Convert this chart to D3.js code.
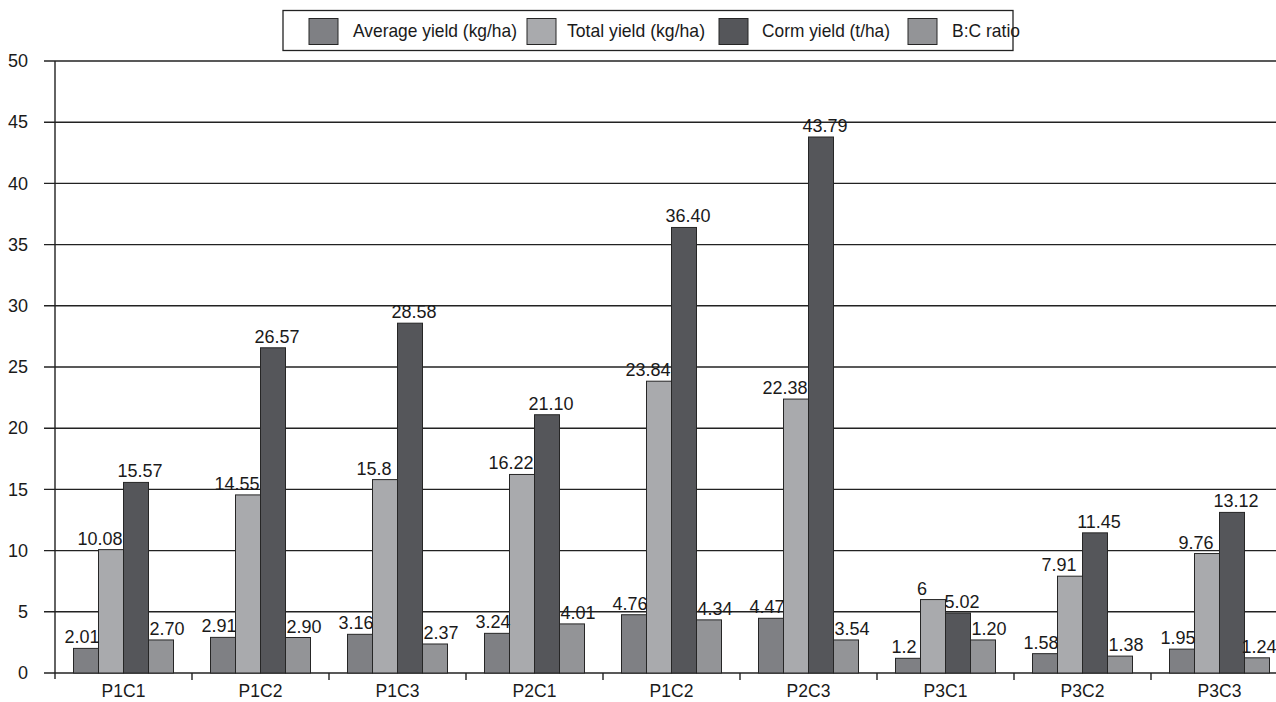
<!DOCTYPE html>
<html>
<head>
<meta charset="utf-8">
<script src="https://cdn.jsdelivr.net/npm/d3@7"></script>
<style>
  body { margin: 0; background: #fff; }
  svg { display: block; font-family: "Liberation Sans", Arial, sans-serif; }
</style>
</head>
<body>
<div id="chart"></div>
<script>
// categories along the x axis (P1C2 appears twice in the original)
const categories = ["P1C1", "P1C2", "P1C3", "P2C1", "P1C2", "P2C3", "P3C1", "P3C2", "P3C3"];
const seriesNames = ["Average yield (kg/ha)", "Total yield (kg/ha)", "Corm yield (t/ha)", "B:C ratio"];

// bar heights
const averageYield = [2.01, 2.91, 3.16, 3.24, 4.76, 4.47, 1.2, 1.58, 1.95];
const totalYield = [10.08, 14.55, 15.8, 16.22, 23.84, 22.38, 6, 7.91, 9.76];
const cormYield = [15.57, 26.57, 28.58, 21.10, 36.40, 43.79, 4.9, 11.45, 13.12];
const bcRatio = [2.70, 2.90, 2.37, 4.01, 4.34, 2.7, 2.7, 1.38, 1.24];

// labels printed above the bars
const averageLabels = ["2.01", "2.91", "3.16", "3.24", "4.76", "4.47", "1.2", "1.58", "1.95"];
const totalLabels = ["10.08", "14.55", "15.8", "16.22", "23.84", "22.38", "6", "7.91", "9.76"];
const cormLabels = ["15.57", "26.57", "28.58", "21.10", "36.40", "43.79", "5.02", "11.45", "13.12"];
const bcLabels = ["2.70", "2.90", "2.37", "4.01", "4.34", "3.54", "1.20", "1.38", "1.24"];

const yTicks = [0, 5, 10, 15, 20, 25, 30, 35, 40, 45, 50];

const colors = ["#7f8084", "#a9aaad", "#55565a", "#939497"];
const labelShift = [-4, -11, 4, 6];

const seriesValues = [averageYield, totalYield, cormYield, bcRatio];
const seriesLabels = [averageLabels, totalLabels, cormLabels, bcLabels];

const width = 1276, height = 702;
const margin = {top: 61, right: -12, bottom: 29, left: 55};

const svg = d3.select("#chart").append("svg")
    .attr("width", width)
    .attr("height", height);

const x0 = d3.scaleBand()
    .domain(d3.range(categories.length))
    .range([margin.left, width - margin.right])
    .padding(0);

const x1 = d3.scaleBand()
    .domain(d3.range(seriesNames.length))
    .range([0, x0.bandwidth()])
    .paddingInner(0)
    .paddingOuter(0.74);

const y = d3.scaleLinear()
    .domain([0, 50])
    .range([height - margin.bottom, margin.top]);

// gridlines
svg.append("g")
    .selectAll("line")
    .data(yTicks)
    .join("line")
    .attr("x1", margin.left - 11)
    .attr("x2", width - margin.right)
    .attr("y1", d => y(d))
    .attr("y2", d => y(d))
    .attr("stroke", "#222")
    .attr("stroke-width", 1.4);

// y axis
const yAxis = svg.append("g")
    .attr("transform", `translate(${margin.left},0)`)
    .call(d3.axisLeft(y).tickValues(yTicks).tickSize(0).tickPadding(27));
yAxis.select(".domain").remove();
yAxis.selectAll("text")
    .attr("font-size", 18)
    .attr("fill", "#1a1a1a")
    .attr("font-family", "'Liberation Sans', Arial, sans-serif");

svg.append("line")
    .attr("x1", margin.left).attr("x2", margin.left)
    .attr("y1", y(50)).attr("y2", y(0) + 6)
    .attr("stroke", "#222")
    .attr("stroke-width", 1.4);

// x axis labels
const xAxis = svg.append("g")
    .attr("transform", `translate(0,${y(0)})`)
    .call(d3.axisBottom(x0).tickFormat(i => categories[i]).tickSize(0).tickPadding(12));
xAxis.select(".domain").remove();
xAxis.selectAll("text")
    .attr("font-size", 17.5)
    .attr("fill", "#1a1a1a")
    .attr("font-family", "'Liberation Sans', Arial, sans-serif");

// category boundary ticks
svg.append("g")
    .selectAll("line")
    .data(d3.range(1, categories.length))
    .join("line")
    .attr("x1", d => x0(d))
    .attr("x2", d => x0(d))
    .attr("y1", y(0))
    .attr("y2", y(0) + 7)
    .attr("stroke", "#222")
    .attr("stroke-width", 1.4);

// bars
const groups = svg.append("g")
    .selectAll("g")
    .data(categories.map((c, i) => i))
    .join("g")
    .attr("transform", i => `translate(${x0(i)},0)`);

groups.selectAll("rect")
    .data(i => seriesValues.map((vals, s) => ({s: s, v: vals[i]})))
    .join("rect")
    .attr("x", d => x1(d.s))
    .attr("width", x1.bandwidth())
    .attr("y", d => y(d.v))
    .attr("height", d => y(0) - y(d.v))
    .attr("fill", d => colors[d.s])
    .attr("stroke", "#262626")
    .attr("stroke-width", 1);

groups.selectAll("text")
    .data(i => seriesValues.map((vals, s) => ({s: s, v: vals[i], t: seriesLabels[s][i], i: i})))
    .join("text")
    .attr("x", d => {
        // keep the label inside the picture at the right edge
        const cx = x1(d.s) + x1.bandwidth() / 2 + labelShift[d.s];
        return Math.min(cx, width - 17 - x0(d.i));
    })
    .attr("y", d => y(d.v) - 5)
    .attr("text-anchor", "middle")
    .attr("font-size", 18)
    .attr("fill", "#1a1a1a")
    .text(d => d.t);

// legend
const legend = svg.append("g");
legend.append("rect")
    .attr("x", 283).attr("y", 10.5)
    .attr("width", 730).attr("height", 40)
    .attr("fill", "#fff")
    .attr("stroke", "#222")
    .attr("stroke-width", 1.3);

const swatchX = [309, 527, 719, 908];
const textX = [353, 567, 762, 952];
const textW = [164, 138, 128, 68];

seriesNames.forEach((name, s) => {
    legend.append("rect")
        .attr("x", swatchX[s]).attr("y", 18.5)
        .attr("width", 29).attr("height", 26)
        .attr("fill", colors[s])
        .attr("stroke", "#262626")
        .attr("stroke-width", 1);
    legend.append("text")
        .attr("x", textX[s]).attr("y", 37)
        .attr("font-size", 19)
        .attr("fill", "#1a1a1a")
        .attr("textLength", textW[s])
        .attr("lengthAdjust", "spacingAndGlyphs")
        .text(name);
});
</script>
</body>
</html>
